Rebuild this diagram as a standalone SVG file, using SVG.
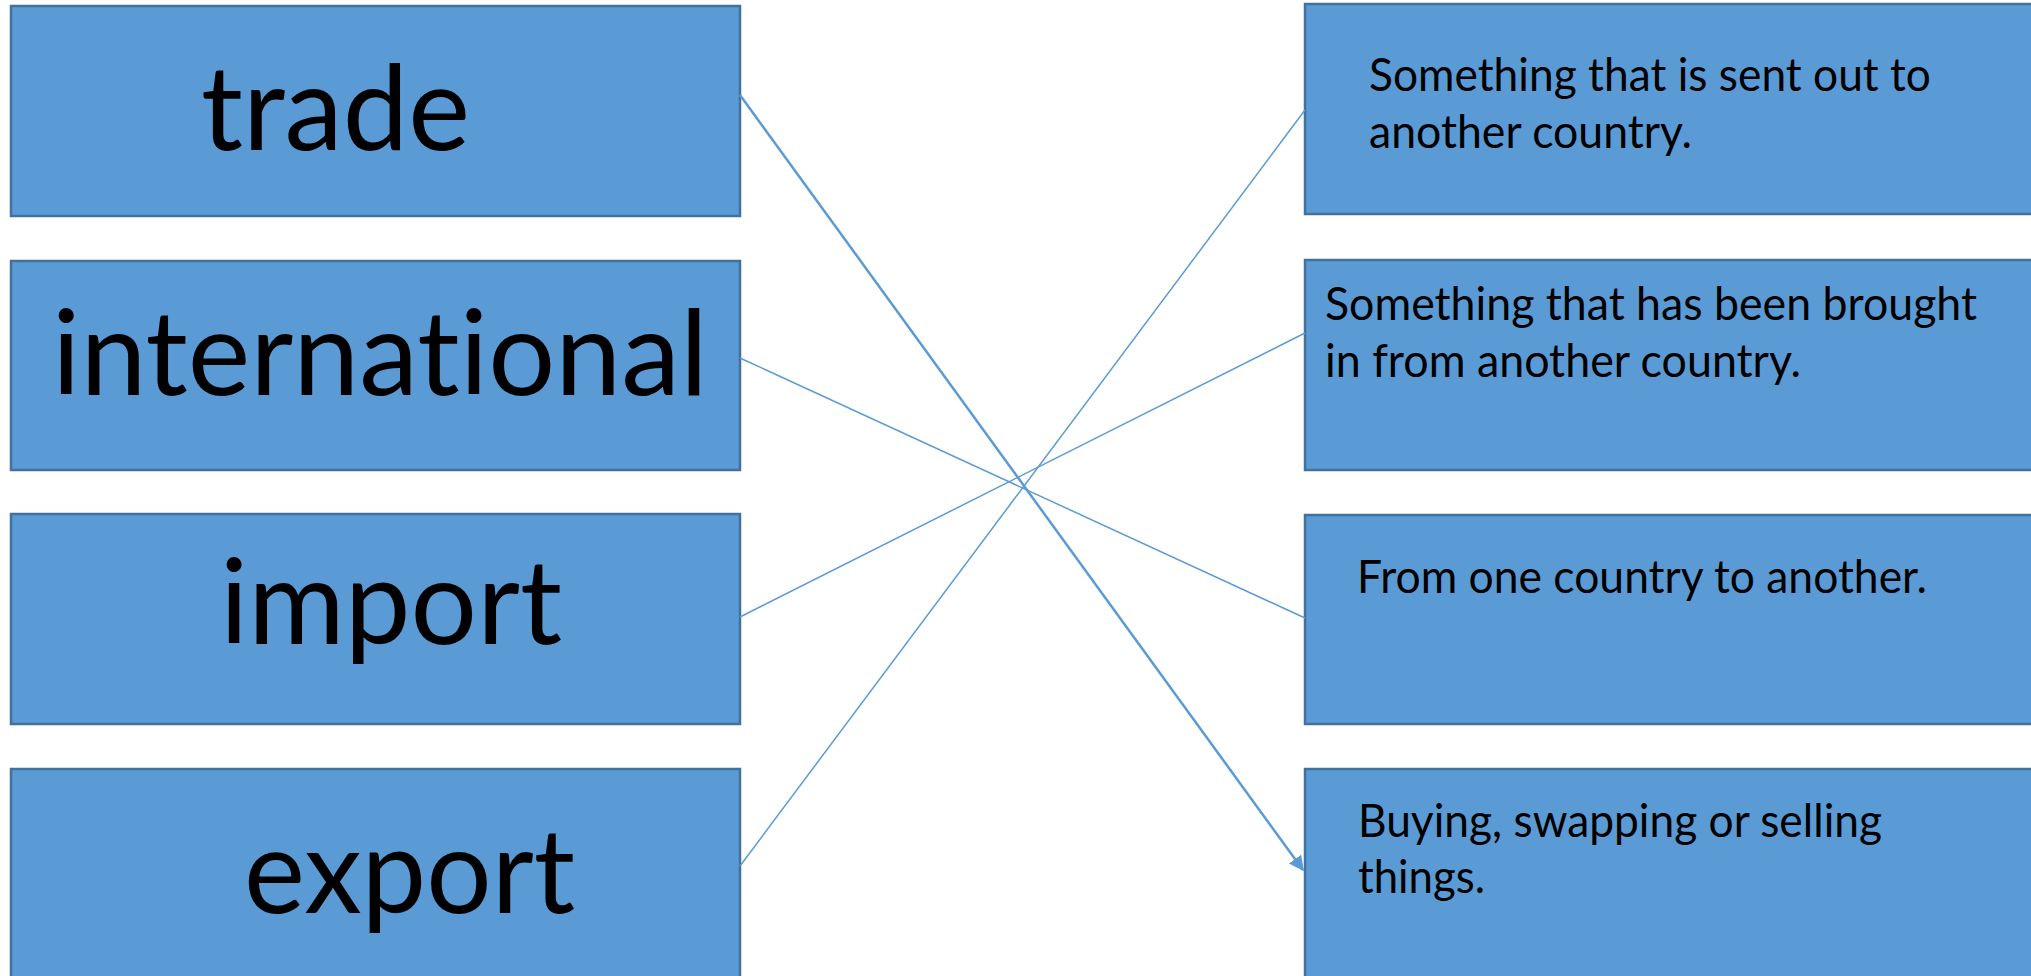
<svg xmlns="http://www.w3.org/2000/svg" width="2031" height="976" viewBox="0 0 2031 976">
<defs>
<style>
.box{fill:#5B9BD5;stroke:#41719C;stroke-width:2.5}
.big{font-family:Lato,"Open Sans","Liberation Sans",sans-serif;font-size:119px;fill:#000;font-variant-ligatures:none}
.small{font-family:Lato,"Open Sans","Liberation Sans",sans-serif;font-size:46px;fill:#000;font-variant-ligatures:none}
.con{stroke:#5B9BD5;fill:none}
</style>
<marker id="arr" viewBox="0 0 10 10" refX="9" refY="5" markerWidth="6" markerHeight="6" orient="auto" markerUnits="strokeWidth">
<path d="M0,0 L10,5 L0,10 z" fill="#5B9BD5"/>
</marker>
</defs>
<rect width="2031" height="976" fill="#fff"/>
<g id="n-trade"><rect class="box" x="11" y="6" width="729" height="210"/><text class="big" x="201" y="150" textLength="269" lengthAdjust="spacingAndGlyphs">trade</text></g>
<g id="n-international"><rect class="box" x="11" y="261" width="729" height="209"/><text class="big" x="52" y="395" textLength="656" lengthAdjust="spacingAndGlyphs">international</text></g>
<g id="n-import"><rect class="box" x="11" y="514" width="729" height="210"/><text class="big" x="220" y="644" textLength="342" lengthAdjust="spacingAndGlyphs">import</text></g>
<g id="n-export"><rect class="box" x="11" y="769" width="729" height="215"/><text class="big" x="244" y="913" textLength="331" lengthAdjust="spacingAndGlyphs">export</text></g>
<g id="d-export"><rect class="box" x="1305" y="4" width="735" height="210"/><text class="small" x="1369" y="91" textLength="562" lengthAdjust="spacingAndGlyphs">Something that is sent out to</text><text class="small" x="1369" y="148" textLength="323" lengthAdjust="spacingAndGlyphs">another country.</text></g>
<g id="d-import"><rect class="box" x="1305" y="260" width="735" height="210"/><text class="small" x="1325" y="320" textLength="652" lengthAdjust="spacingAndGlyphs">Something that has been brought</text><text class="small" x="1325" y="377" textLength="476" lengthAdjust="spacingAndGlyphs">in from another country.</text></g>
<g id="d-international"><rect class="box" x="1305" y="515" width="735" height="209"/><text class="small" x="1357" y="593" textLength="570" lengthAdjust="spacingAndGlyphs">From one country to another.</text></g>
<g id="d-trade"><rect class="box" x="1305" y="769" width="735" height="215"/><text class="small" x="1358" y="837" textLength="524" lengthAdjust="spacingAndGlyphs">Buying, swapping or selling</text><text class="small" x="1358" y="893" textLength="127" lengthAdjust="spacingAndGlyphs">things.</text></g>
<g id="connectors">
<line class="con" x1="740" y1="95" x2="1303" y2="870" stroke-width="2.5" marker-end="url(#arr)"/>
<line class="con" x1="740" y1="358" x2="1305" y2="618" stroke-width="1.5"/>
<line class="con" x1="740" y1="617" x2="1305" y2="333" stroke-width="1.5"/>
<line class="con" x1="740" y1="866" x2="1305" y2="110" stroke-width="1.5"/>
</g>
</svg>
